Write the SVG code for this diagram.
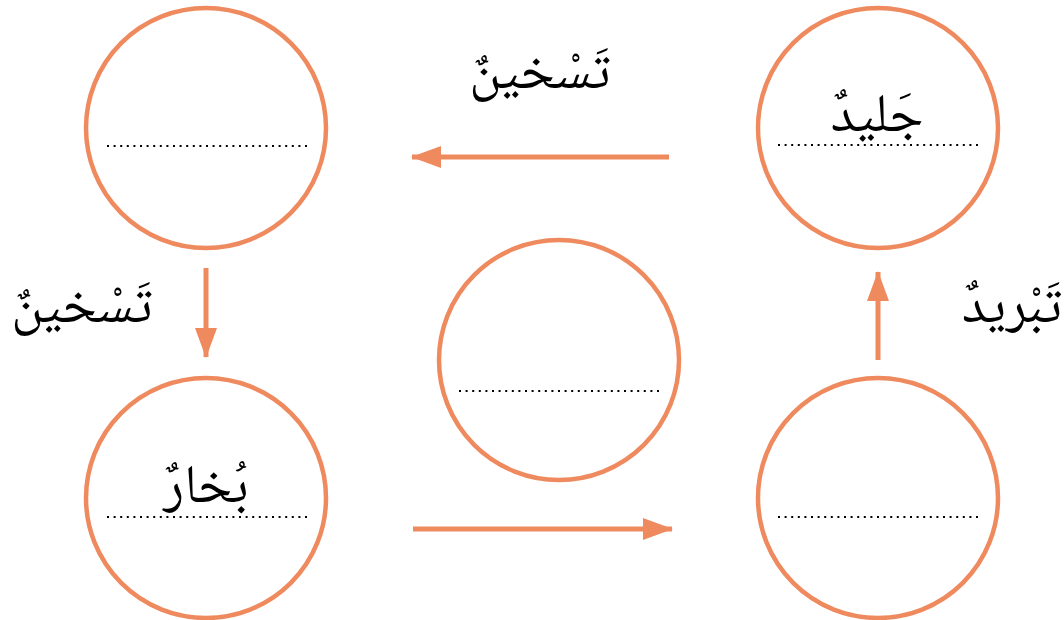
<svg xmlns="http://www.w3.org/2000/svg" width="1064" height="620" viewBox="0 0 1064 620">
<style>
.c{fill:#fff;stroke:#EF8A5F;stroke-width:4.5}
.d{stroke:#000;stroke-width:2.2;stroke-dasharray:2 4.6;fill:none}
.t{font-family:"Noto Naskh Arabic","Amiri","Scheherazade New","Noto Serif Arabic","DejaVu Sans",sans-serif;font-size:54px;fill:#000;text-anchor:middle;direction:rtl}
.a{stroke:#EF8A5F;stroke-width:5;fill:none}
</style>
<defs>
<marker id="ah" viewBox="0 0 30 22" refX="29" refY="11" markerWidth="30" markerHeight="22" markerUnits="userSpaceOnUse" orient="auto">
<path d="M0,0 L30,11 L0,22 Z" fill="#EF8A5F"/>
</marker>
</defs>
<rect width="1064" height="620" fill="#fff"/>
<g id="connectors">
<line class="a" x1="669" y1="157" x2="412" y2="157" marker-end="url(#ah)"/>
<line class="a" x1="206" y1="268" x2="206" y2="357" marker-end="url(#ah)"/>
<line class="a" x1="413" y1="529" x2="672" y2="529" marker-end="url(#ah)"/>
<line class="a" x1="878" y1="360" x2="878" y2="272" marker-end="url(#ah)"/>
</g>
<g id="label-top"><text class="t" x="540" y="88">تَسْخينٌ</text></g>
<g id="label-left"><text class="t" x="82" y="322">تَسْخينٌ</text></g>
<g id="label-right"><text class="t" x="1012" y="322">تَبْريدٌ</text></g>
<g id="node-top-left">
<circle class="c" cx="206" cy="128" r="120"/>
<line class="d" x1="107" y1="146" x2="310" y2="146"/>
</g>
<g id="node-top-right">
<circle class="c" cx="878" cy="128" r="120"/>
<line class="d" x1="778" y1="145" x2="981" y2="145"/>
<text class="t" x="877" y="131">جَليدٌ</text>
</g>
<g id="node-middle">
<circle class="c" cx="559" cy="360" r="120"/>
<line class="d" x1="459" y1="391" x2="662" y2="391"/>
</g>
<g id="node-bottom-left">
<circle class="c" cx="206" cy="498" r="120"/>
<line class="d" x1="107" y1="517" x2="310" y2="517"/>
<text class="t" x="206" y="502">بُخارٌ</text>
</g>
<g id="node-bottom-right">
<circle class="c" cx="878" cy="498" r="120"/>
<line class="d" x1="778" y1="517" x2="981" y2="517"/>
</g>
</svg>
